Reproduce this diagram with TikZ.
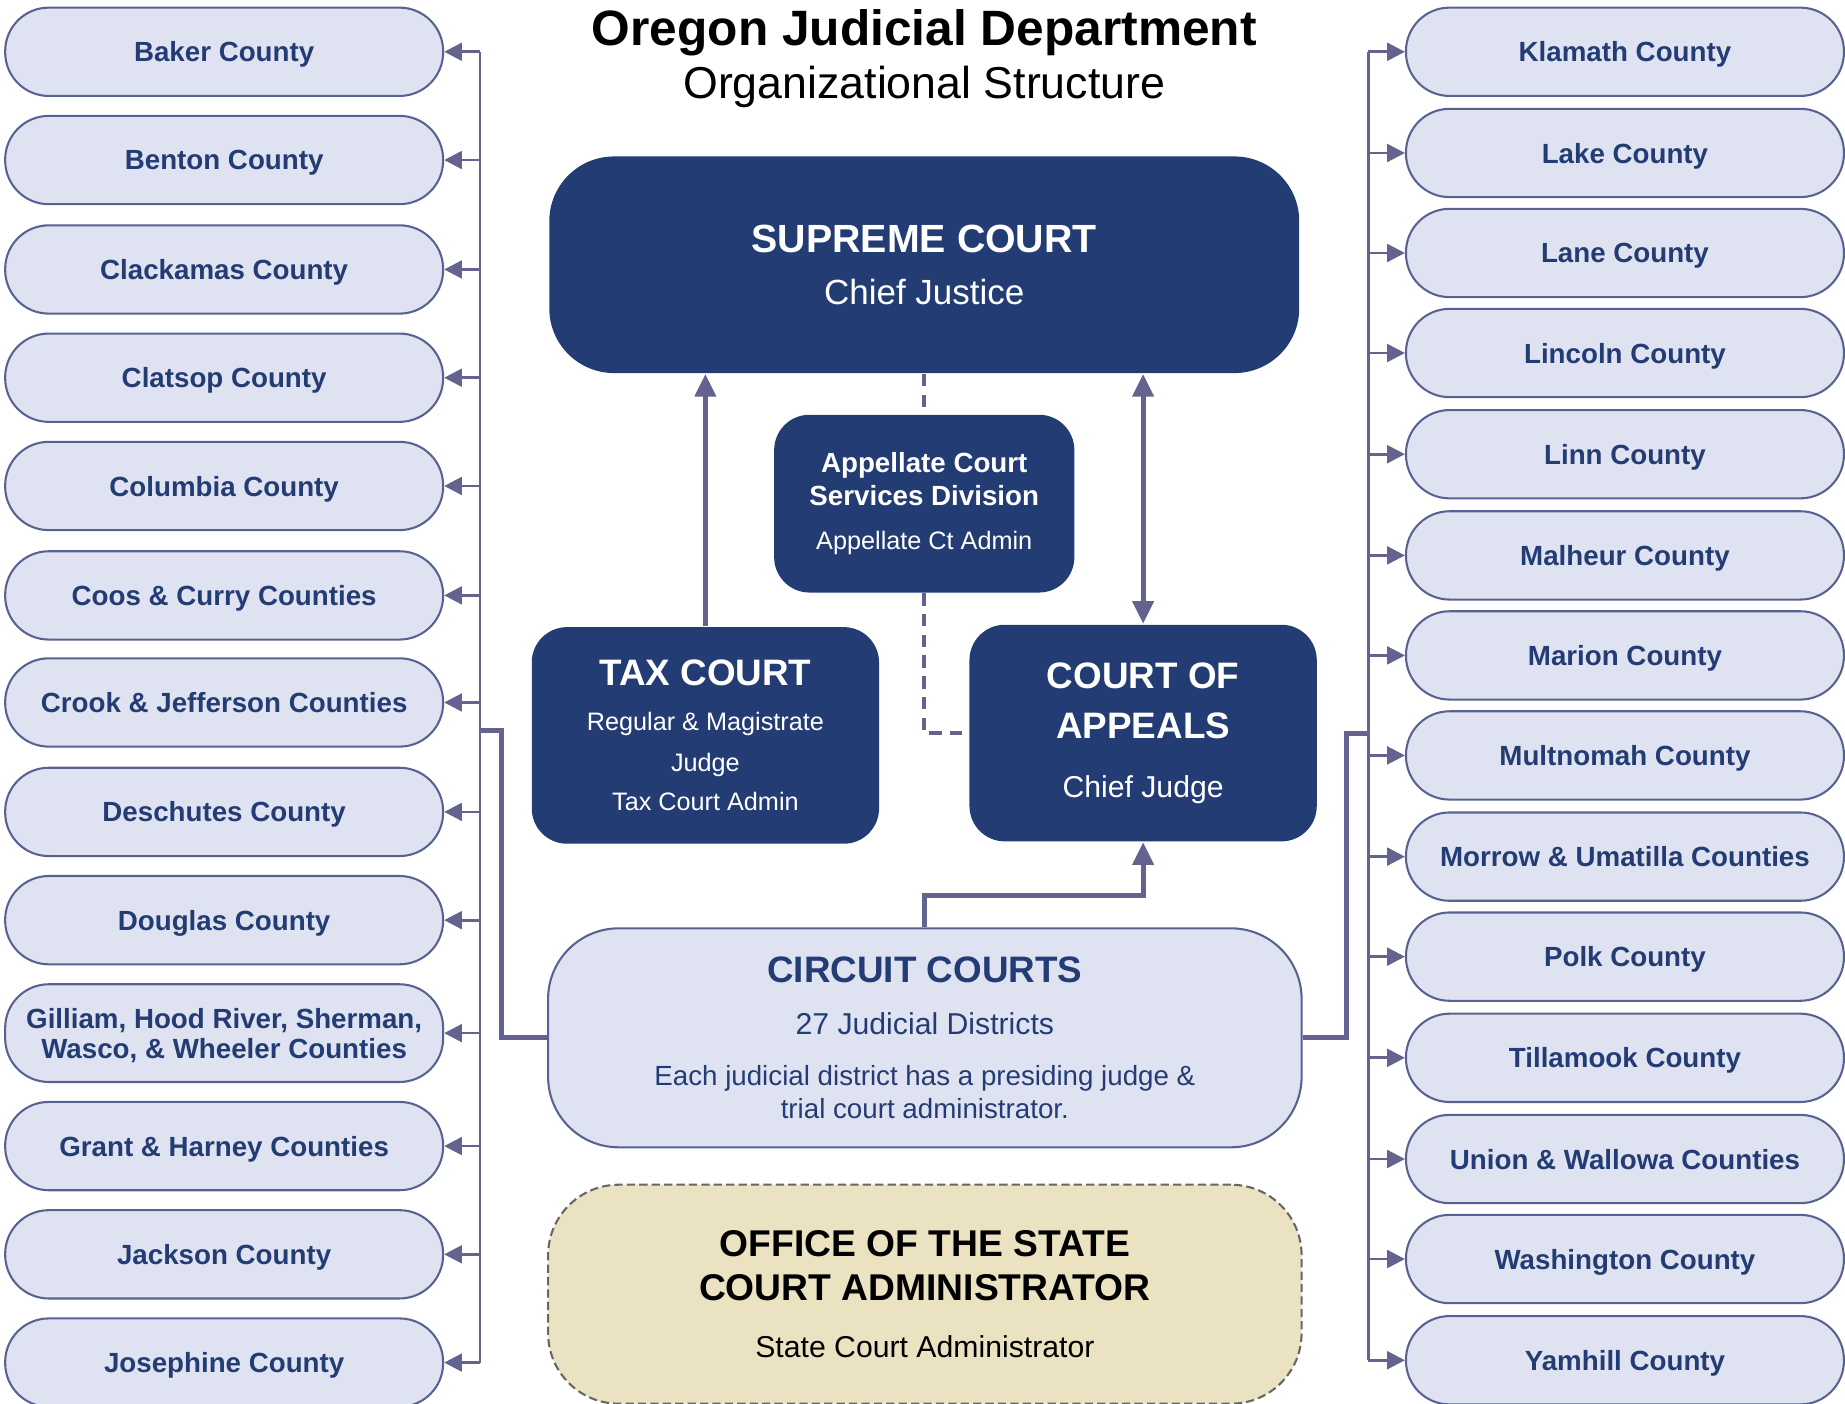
\documentclass[tikz,border=0pt]{standalone}
\usepackage{fontspec}
\setmainfont{Liberation Sans}
\usepackage{xcolor}
\usetikzlibrary{arrows.meta, positioning}

\definecolor{ojdnavy}{RGB}{35,60,116}
\definecolor{ojdpale}{RGB}{223,227,241}
\definecolor{ojdedge}{RGB}{88,98,146}
\definecolor{ojdlink}{RGB}{100,98,142}
\definecolor{ojdsand}{RGB}{235,226,194}

\newcommand{\gilliamtxt}{Gilliam, Hood River, Sherman,\\Wasco, \& Wheeler Counties}

\begin{document}
\begin{tikzpicture}[x=0.01cm, y=-0.01cm,
    county/.style={draw=ojdedge, line width=0.5pt, fill=ojdpale, rounded corners=0.37cm, minimum width=3.72cm, inner sep=0pt, text depth=0pt, align=center, text=ojdnavy, font=\bfseries\fontsize{6.7}{7.2}\selectfont},
    court/.style={fill=ojdnavy, text=white, align=center, inner sep=0pt},
    board/.style={draw=ojdedge, line width=0.5pt, fill=ojdpale, rounded corners=0.6cm, align=center, inner sep=0pt, text=ojdnavy, minimum width=6.4cm, minimum height=1.86cm},
    feed/.style={ojdlink, line width=0.65pt, -{Triangle[length=4.3pt,width=4.3pt]}},
    trunk/.style={ojdlink, line width=1.2pt},
    tip/.style={-{Triangle[length=5.5pt,width=5pt]}},
    liaison/.style={ojdlink, line width=1pt, dash pattern=on 3pt off 2pt}]
  \useasboundingbox (0,0) rectangle (1568,1193);
  \clip (0,0) rectangle (1568,1193);

  % heading
  \node[align=center, font=\fontsize{10.8}{12.8}\selectfont] (title) at (785.5,50) {{\bfseries\fontsize{12}{12.8}\selectfont Oregon Judicial Department}\\Organizational Structure};

  % courts
  \node[court, rounded corners=0.55cm, minimum width=6.37cm, minimum height=1.84cm, font=\fontsize{8.45}{12.5}\selectfont] (supreme) at (785.5,225) {{\bfseries\fontsize{9.5}{12.5}\selectfont SUPREME COURT}\\Chief Justice};
  \node[court, rounded corners=0.3cm, minimum width=2.55cm, minimum height=1.51cm, font=\fontsize{6.1}{8}\selectfont, below=0.34cm of supreme] (acsd) {{\bfseries\fontsize{6.7}{8}\selectfont Appellate Court}\\{\bfseries\fontsize{6.7}{8}\selectfont Services Division}\\[2.5pt]Appellate Ct Admin};
  \node[court, rounded corners=0.3cm, minimum width=2.95cm, minimum height=1.84cm, font=\fontsize{6.1}{9.4}\selectfont] (tax) at (599.5,625) {{\bfseries\fontsize{8.9}{9.4}\selectfont TAX COURT}\\[1.4pt]Regular \& Magistrate\\[0.6pt]Judge\\Tax Court Admin};
  \node[court, rounded corners=0.3cm, minimum width=2.95cm, minimum height=1.84cm, font=\fontsize{7.3}{12.2}\selectfont] (appeals) at (971.5,623) {{\bfseries\fontsize{8.9}{12.2}\selectfont COURT OF}\\{\bfseries\fontsize{8.9}{12.2}\selectfont APPEALS}\\[2pt]Chief Judge};
  \node[board, font=\fontsize{6.7}{8}\selectfont] (circuit) at (786,882) {{\bfseries\fontsize{8.9}{8}\selectfont CIRCUIT COURTS}\\[4.5pt]{\fontsize{7.3}{8}\selectfont 27 Judicial Districts}\\[4.5pt]Each judicial district has a presiding judge \&\\trial court administrator.};
  \node[board, draw=black!60, fill=ojdsand, text=black, dash pattern=on 2pt off 1pt, font=\fontsize{7.3}{10.5}\selectfont, below=0.3cm of circuit] (osca) {{\bfseries\fontsize{9}{10.5}\selectfont OFFICE OF THE STATE}\\{\bfseries\fontsize{9}{10.5}\selectfont COURT ADMINISTRATOR}\\[3.2pt]State Court Administrator};

  % counties
  \foreach \y/\h/\txt [count=\i] in {44/0.75/Baker County, 136/0.75/Benton County, 229/0.75/Clackamas County, 321/0.75/Clatsop County, 413/0.75/Columbia County, 506/0.75/Coos \& Curry Counties, 597/0.75/Crook \& Jefferson Counties, 690/0.75/Deschutes County, 782/0.75/Douglas County, 878/0.83/\gilliamtxt, 974/0.75/Grant \& Harney Counties, 1066/0.75/Jackson County, 1158/0.75/Josephine County}
    \node[county, minimum height=\h cm] (L\i) at (190.5,\y) {\txt};
  \foreach \y/\txt [count=\i] in {44/Klamath County, 130/Lake County, 215/Lane County, 300/Lincoln County, 386/Linn County, 472/Malheur County, 557/Marion County, 642/Multnomah County, 728/Morrow \& Umatilla Counties, 813/Polk County, 899/Tillamook County, 985/Union \& Wallowa Counties, 1070/Washington County, 1156/Yamhill County}
    \node[county, minimum height=0.75cm] (R\i) at (1381,\y) {\txt};

  % county feeds
  \coordinate (lbus) at (408,0);
  \coordinate (rbus) at (1163,0);
  \draw[ojdlink, line width=0.65pt] (lbus |- L1.east) -- (lbus |- L13.east);
  \draw[ojdlink, line width=0.65pt] (rbus |- R1.west) -- (rbus |- R14.west);
  \foreach \i in {1,...,13}
    \draw[feed] (lbus |- L\i.east) -- (L\i.east);
  \foreach \i in {1,...,14}
    \draw[feed] (rbus |- R\i.west) -- (R\i.west);

  % circuit courts to the buses
  \coordinate (ltap) at (408,621);
  \coordinate (rtap) at (1163,623);
  \draw[trunk] (circuit.west) -- ++(-39,0) |- (ltap);
  \draw[trunk] (circuit.east) -- ++(37,0) |- (rtap);

  % appeals
  \draw[trunk, tip] (circuit.north) -- ++(0,-27) -| (appeals.south);
  \draw[trunk, tip] (tax.north) -- (tax.north |- supreme.south);
  \draw[trunk, {Triangle[length=5.5pt,width=5pt]}-{Triangle[length=5.5pt,width=5pt]}] (appeals.north) -- (appeals.north |- supreme.south);
  \draw[liaison] (supreme.south) -- (acsd.north);
  \draw[liaison] (acsd.south) |- (appeals.west);
\end{tikzpicture}
\end{document}
